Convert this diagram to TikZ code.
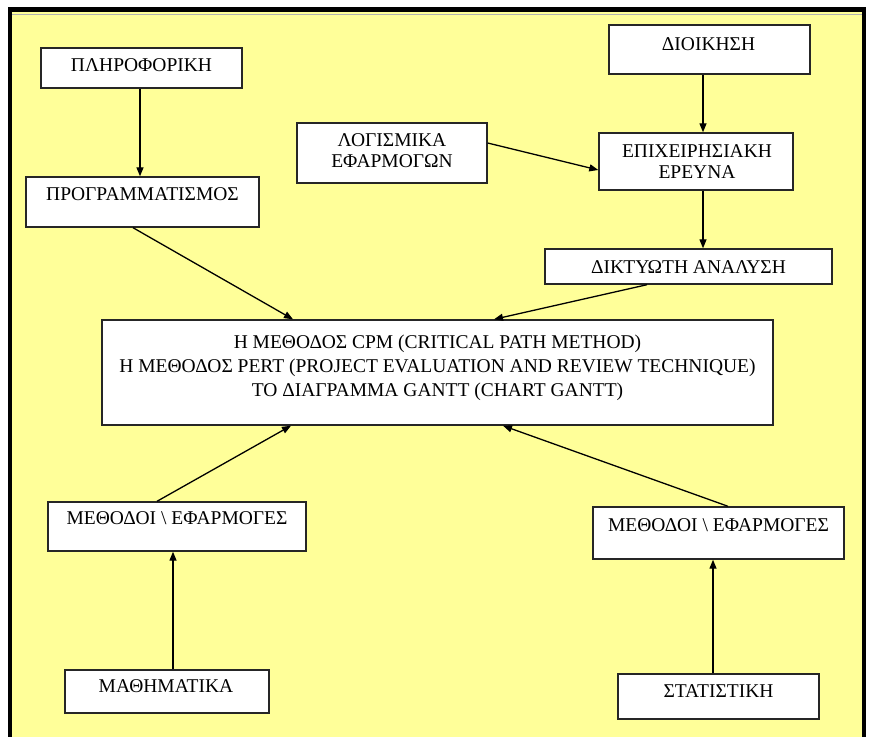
\documentclass[tikz,border=0pt]{standalone}
\usepackage{fontspec}
\setmainfont{Liberation Serif}
\usetikzlibrary{arrows.meta}
\definecolor{bgyellow}{RGB}{255,255,153}
\begin{document}
\begin{tikzpicture}[x=1pt,y=-1pt,
  box/.style={draw=black!85, line width=1.4pt, fill=white, inner sep=0pt},
  txt/.style={font=\fontsize{19.5}{23}\selectfont, inner sep=0pt, anchor=base},
  arr/.style={draw=black, line width=1.3pt, -{Triangle[length=9pt,width=7pt]}},
  ln/.style={draw=black, line width=1.3pt}]
\useasboundingbox (0,0) rectangle (870,737);
\fill[white] (0,0) rectangle (870,737);
\fill[bgyellow] (12,12) rectangle (862,737);
\draw[gray!60, line width=1pt] (12,14.5) -- (862,14.5);
\fill[black] (8,7) rectangle (866,12);
\fill[black] (8,7) rectangle (12,737);
\fill[black] (862,7) rectangle (866,737);

% boxes
\node[box, minimum width=201pt, minimum height=40pt] (pl) at (141.5,68) {};
\node[box, minimum width=233pt, minimum height=50pt] (pg) at (142.5,202) {};
\node[box, minimum width=201pt, minimum height=49pt] (di) at (709.5,49.5) {};
\node[box, minimum width=190pt, minimum height=60pt] (lo) at (392,153) {};
\node[box, minimum width=194pt, minimum height=57pt] (ep) at (696,161.5) {};
\node[box, minimum width=287pt, minimum height=35pt] (dk) at (688.5,266.5) {};
\node[box, minimum width=671pt, minimum height=105pt] (ce) at (437.5,372.5) {};
\node[box, minimum width=258pt, minimum height=49pt] (ml) at (177,526.5) {};
\node[box, minimum width=251pt, minimum height=52pt] (mr) at (718.5,533) {};
\node[box, minimum width=204pt, minimum height=43pt] (ma) at (167,691.5) {};
\node[box, minimum width=201pt, minimum height=45pt] (st) at (718.5,696.5) {};

% texts
\node[txt] (pl-t) at (141.5,71) {ΠΛΗΡΟΦΟΡΙΚΗ};
\node[txt] (pg-t) at (142.5,200) {ΠΡΟΓΡΑΜΜΑΤΙΣΜΟΣ};
\node[txt] (di-t) at (708.5,50) {ΔΙΟΙΚΗΣΗ};
\node[txt] (lo-t1) at (392,146) {ΛΟΓΙΣΜΙΚΑ};
\node[txt] (lo-t2) at (392,167) {ΕΦΑΡΜΟΓΩΝ};
\node[txt] (ep-t1) at (697,157) {ΕΠΙΧΕΙΡΗΣΙΑΚΗ};
\node[txt] (ep-t2) at (697,178) {ΕΡΕΥΝΑ};
\node[txt] (dk-t) at (688.5,273) {ΔΙΚΤΥΩΤΗ ΑΝΑΛΥΣΗ};
\node[txt] (ce-t1) at (437.5,348) {Η ΜΕΘΟΔΟΣ CPM (CRITICAL PATH METHOD)};
\node[txt] (ce-t2) at (437.5,372) {Η ΜΕΘΟΔΟΣ PERT (PROJECT EVALUATION AND REVIEW TECHNIQUE)};
\node[txt] (ce-t3) at (437.5,396) {ΤΟ ΔΙΑΓΡΑΜΜΑ GANTT (CHART GANTT)};
\node[txt] (ml-t) at (177,524) {ΜΕΘΟΔΟΙ \textbackslash{} ΕΦΑΡΜΟΓΕΣ};
\node[txt] (mr-t) at (718.5,531) {ΜΕΘΟΔΟΙ \textbackslash{} ΕΦΑΡΜΟΓΕΣ};
\node[txt] (ma-t) at (166,692) {ΜΑΘΗΜΑΤΙΚΑ};
\node[txt] (st-t) at (718.5,697) {ΣΤΑΤΙΣΤΙΚΗ};

% connectors
\draw[arr] ([xshift=-1.5pt]pl.south) -- ([xshift=-1.5pt]pl.south |- pg.north);
\draw[arr] ([xshift=-6.5pt]di.south) -- ([xshift=-6.5pt]di.south |- ep.north);
\draw[arr] ([xshift=7pt]ep.south) -- ([xshift=7pt]ep.south |- dk.north);
\draw[arr] ([yshift=10pt]lo.east) -- ([yshift=-8.5pt]ep.west);
\draw[arr] ([xshift=-9.5pt]pg.south) -- ([xshift=-144.5pt]ce.north);
\draw[arr] ([xshift=-41.5pt]dk.south) -- ([xshift=56.5pt]ce.north);
\draw[arr] ([xshift=-20pt]ml.north) -- ([xshift=-146.5pt]ce.south);
\draw[arr] ([xshift=9.5pt]mr.north) -- ([xshift=65.5pt]ce.south);
\draw[arr] ([xshift=6pt]ma.north) -- ([xshift=6pt]ma.north |- ml.south);
\draw[arr] ([xshift=-5.5pt]st.north) -- ([xshift=-5.5pt]st.north |- mr.south);
\end{tikzpicture}
\end{document}
